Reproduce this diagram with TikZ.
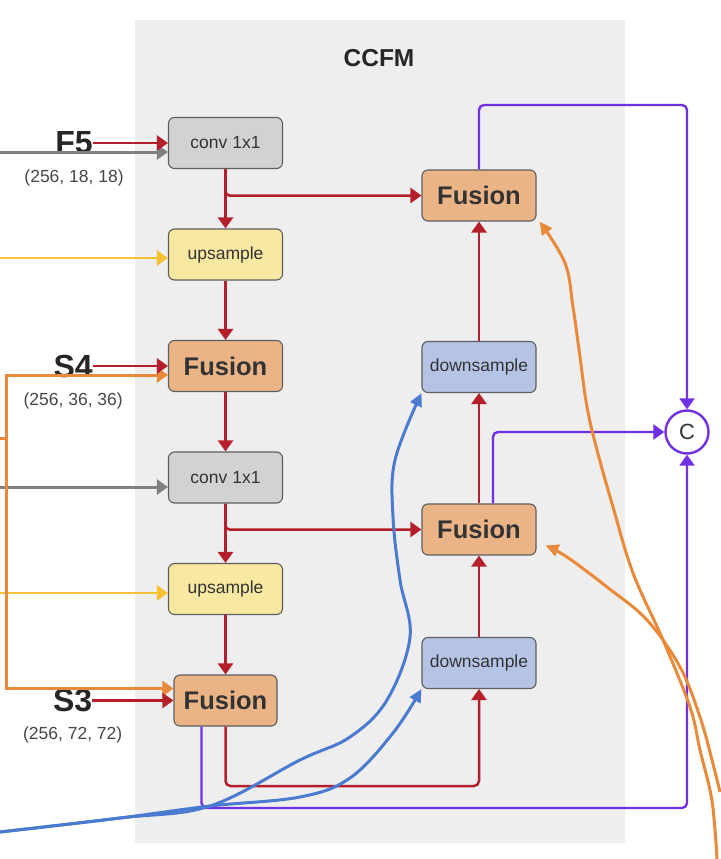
\documentclass[tikz,border=0pt]{standalone}
\usepackage{xcolor}
\usepackage{fontspec}
\setmainfont{Liberation Sans}
\usepackage{tikz}
\usetikzlibrary{positioning,arrows.meta}

\definecolor{panelgray}{HTML}{EEEEEE}
\definecolor{boxedge}{HTML}{5E5E5E}
\definecolor{convfill}{HTML}{D2D2D2}
\definecolor{upfill}{HTML}{F8E8A2}
\definecolor{fusfill}{HTML}{EBB487}
\definecolor{downfill}{HTML}{B5C4E5}
\definecolor{linkred}{HTML}{B51F2C}
\definecolor{linkpurple}{HTML}{7130E3}
\definecolor{linkgray}{HTML}{808080}
\definecolor{linkyellow}{HTML}{F6C234}
\definecolor{linkorange}{HTML}{E98A3B}
\definecolor{linkblue}{HTML}{4B7BD0}
\definecolor{textdark}{HTML}{333333}

\begin{document}
\begin{tikzpicture}[x=1pt, y=-1pt, node distance=59.4pt,
    >={Triangle[length=11pt,width=15pt]},
    box/.style={draw=boxedge, line width=1.1pt, rounded corners=6pt, minimum width=114pt, minimum height=51pt, inner sep=0pt, text=textdark, font=\fontsize{17.5}{20}\selectfont},
    convbox/.style={box, fill=convfill},
    upbox/.style={box, fill=upfill},
    fusbox/.style={box, fill=fusfill, font=\fontsize{25.5}{28}\selectfont\bfseries},
    downbox/.style={box, fill=downfill},
    lab/.style={inner sep=0pt, text=black!85, font=\fontsize{32}{34}\selectfont\bfseries},
    dimlab/.style={inner sep=0pt, text=black!72, font=\fontsize{17.5}{20}\selectfont},
    redlink/.style={draw=linkred, line width=2.5pt},
    purplelink/.style={draw=linkpurple, line width=2.4pt, rounded corners=5pt},
    graylink/.style={draw=linkgray, line width=3pt},
    yellowlink/.style={draw=linkyellow, line width=2.8pt},
    orangelink/.style={draw=linkorange, line width=3pt},
    bluelink/.style={draw=linkblue, line width=3pt},
    handtip/.style={>={Triangle[length=13pt,width=12pt]}}]
    \useasboundingbox (0,0) rectangle (720,859);

    % CCFM panel
    \fill[panelgray] (135,20) rectangle (625,843);
    \node[inner sep=0pt, text=black!85, font=\fontsize{24.5}{26}\selectfont\bfseries] (title) at (379,58) {CCFM};

    % top-down path
    \node[convbox] (conv5) at (225.5,143) {conv 1x1};
    \node[upbox, below=of conv5] (up5) {upsample};
    \node[fusbox, below=of up5] (fus4) {Fusion};
    \node[convbox, below=of fus4] (conv4) {conv 1x1};
    \node[upbox, below=of conv4] (up4) {upsample};
    \node[fusbox, minimum width=103pt, below=of up4] (fus3) {Fusion};

    % bottom-up path
    \node[fusbox] (fusa) at (479,195.5) {Fusion};
    \node[downbox] (dsa) at (479,367) {downsample};
    \node[fusbox] (fusb) at (479,529.5) {Fusion};
    \node[downbox] (dsb) at (479,663) {downsample};

    % concat
    \node[circle, draw=linkpurple, line width=2.4pt, fill=white, minimum size=43pt, inner sep=0pt, text=textdark, font=\fontsize{22}{24}\selectfont] (cat) at (687,432) {C};

    % inputs
    \node[lab, left=75pt of conv5] (lF5) {F5};
    \node[dimlab] (dF5) at ([yshift=-35pt]lF5) {(256, 18, 18)};
    \node[lab, left=75pt of fus4] (lS4) {S4};
    \node[dimlab] (dS4) at ([yshift=-35pt]lS4) {(256, 36, 36)};
    \node[lab, left=81pt of fus3] (lS3) {S3};
    \node[dimlab] (dS3) at ([yshift=-34pt]lS3) {(256, 72, 72)};

    \coordinate (g5) at (0,152);
    \coordinate (g4) at (0,487);
    \coordinate (y5) at (0,258);
    \coordinate (y4) at (0,593);
    \coordinate (oin) at (0,438);
    \coordinate (obus) at (6,438);
    \draw[graylink, ->] (g5) -- (g5 -| conv5.west);
    \draw[graylink, ->] (g4) -- (g4 -| conv4.west);
    \draw[yellowlink, ->] (y5) -- (y5 -| up5.west);
    \draw[yellowlink, ->] (y4) -- (y4 -| up4.west);
    \draw[orangelink] (oin) -- (obus);
    \draw[orangelink, ->] (obus) |- ([yshift=-9pt]fus4.west);
    \draw[orangelink, ->] (obus) |- ([yshift=12pt]fus3.west);
    \draw[redlink, ->] (lF5) -- (conv5);
    \draw[redlink, ->] (lS4) -- (fus4);
    \draw[redlink, ->] (lS3) -- (fus3);

    % red flow
    \coordinate (rb) at (479,786);
    \draw[redlink, ->] (conv5) -- (up5);
    \draw[redlink, ->, rounded corners=4pt] (conv5.south) |- (fusa.west);
    \draw[redlink, ->] (up5) -- (fus4);
    \draw[redlink, ->] (fus4) -- (conv4);
    \draw[redlink, ->] (conv4) -- (up4);
    \draw[redlink, ->, rounded corners=4pt] (conv4.south) |- (fusb.west);
    \draw[redlink, ->] (up4) -- (fus3);
    \draw[redlink, ->, rounded corners=5pt] (fus3.south) |- (rb) -- (dsb.south);
    \draw[redlink, ->] (dsb) -- (fusb);
    \draw[redlink, ->] (fusb) -- (dsa);
    \draw[redlink, ->] (dsa) -- (fusa);

    % outputs to concat
    \coordinate (ptop) at (687,105);
    \coordinate (pbot) at (687,808);
    \draw[purplelink, ->] (fusa.north) |- (ptop) -- (cat.north);
    \draw[purplelink, ->] ([xshift=14pt]fusb.north) |- (cat.west);
    \draw[purplelink, ->] ([xshift=-24pt]fus3.south) |- (pbot) -- (cat.south);

    % hand drawn marks
    \coordinate (bin) at (0,832);
    \coordinate (oa) at (717,859);
    \coordinate (ob) at (720,792);
    \draw[bluelink, handtip, ->] plot[smooth, tension=0.6] coordinates {(bin) (120,818) (210,806) (300,760) (350,737) (387,700) (410,637) (400,580) (393,517) (395,460) (dsa.south west)};
    \draw[bluelink, handtip, ->] plot[smooth, tension=0.6] coordinates {(bin) (120,818) (210,806) (300,797) (350,778) (393,733) (dsb.south west)};
    \draw[orangelink, handtip, ->] plot[smooth, tension=0.6] coordinates {(oa) (715,830) (711,795) (700,750) (690,707) (663,640) (633,573) (613,507) (597,450) (587,407) (580,357) (573,307) (565,263) ([xshift=3pt]fusa.south east)};
    \draw[orangelink, handtip, ->] plot[smooth, tension=0.6] coordinates {(ob) (712,760) (700,717) (680,667) (647,620) (607,587) (567,557) ([xshift=9pt, yshift=10pt]fusb.south east)};
\end{tikzpicture}
\end{document}
